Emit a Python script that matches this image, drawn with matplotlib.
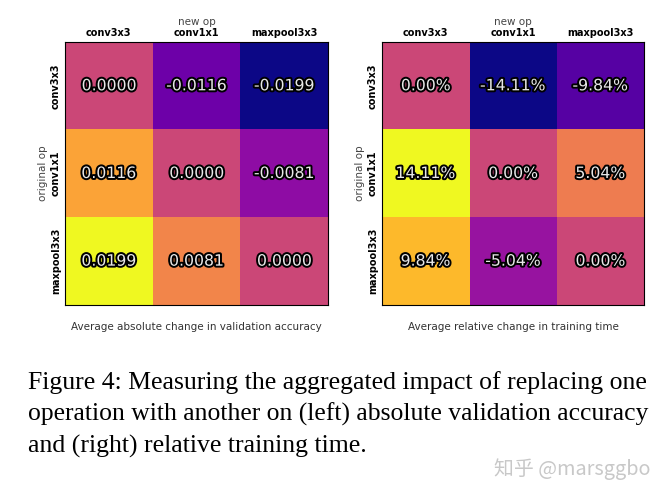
import numpy as np
import matplotlib
matplotlib.use("Agg")
import matplotlib.pyplot as plt
import matplotlib.patheffects as pe

ops = ["conv3x3", "conv1x1", "maxpool3x3"]
acc_change = [[0.0000, -0.0116, -0.0199],
              [0.0116, 0.0000, -0.0081],
              [0.0199, 0.0081, 0.0000]]
time_change = [[0.00, -14.11, -9.84],
               [14.11, 0.00, 5.04],
               [9.84, -5.04, 0.00]]
titles = ["Average absolute change in validation accuracy",
          "Average relative change in training time"]
caption = ["Figure 4: Measuring the aggregated impact of replacing one",
           "operation with another on (left) absolute validation accuracy",
           "and (right) relative training time."]
watermark = "知乎 @marsggbo"

fig = plt.figure(figsize=(6.69, 5.01), dpi=100)
W, H = 669, 501

def px_axes(l, t, r, b):
    return fig.add_axes([l / W, 1 - b / H, (r - l) / W, (b - t) / H])

axes = [px_axes(65, 42, 328, 305), px_axes(382, 42, 644, 305)]
datas = [np.array(acc_change), np.array(time_change)]
fmts = ["{:.4f}", "{:.2f}%"]

for ax, data, fmt, title in zip(axes, datas, fmts, titles):
    m = np.abs(data).max()
    ax.imshow(data, cmap="plasma", vmin=-m, vmax=m, aspect="auto")
    for i in range(3):
        for j in range(3):
            ax.text(j, i, fmt.format(data[i, j]), ha="center", va="center",
                    fontsize=11.3, color="#e8e8e8",
                    path_effects=[pe.withStroke(linewidth=2.8, foreground="black")])
    ax.xaxis.tick_top()
    ax.xaxis.set_label_position("top")
    ax.set_xticks(range(3))
    ax.set_xticklabels(ops, fontsize=7, fontweight="bold")
    ax.set_yticks(range(3))
    ax.set_yticklabels(ops, fontsize=7, fontweight="bold", rotation=90, va="center")
    ax.tick_params(length=0, pad=3)
    ax.set_xlabel("new op", fontsize=7.5, color="#444444", labelpad=2)
    ax.set_ylabel("original op", fontsize=7.5, color="#444444", labelpad=2)
    for s in ax.spines.values():
        s.set_linewidth(0.8)
    ax.text(0.5, -0.085, title, transform=ax.transAxes, ha="center", va="center",
            fontsize=7.5, color="#333333")

# caption: first two lines justified to the same right edge
renderer = fig.canvas.get_renderer()
target_w = 650 - 28
for k, line in enumerate(caption):
    t = fig.text(28 / W, 1 - (389 + 32 * k) / H, line, ha="left", va="baseline",
                 fontsize=18.5, family="Liberation Serif", color="black")
    if k < len(caption) - 1:
        w = t.get_window_extent(renderer).width
        t.set_fontsize(18.5 * target_w / w)

fig.text(651 / W, 1 - 469 / H, watermark, ha="right", va="center", fontsize=14.3,
         color="#c8c8c8", family=["Noto Sans CJK SC", "DejaVu Sans"])

fig.savefig("out.png", dpi=100)
